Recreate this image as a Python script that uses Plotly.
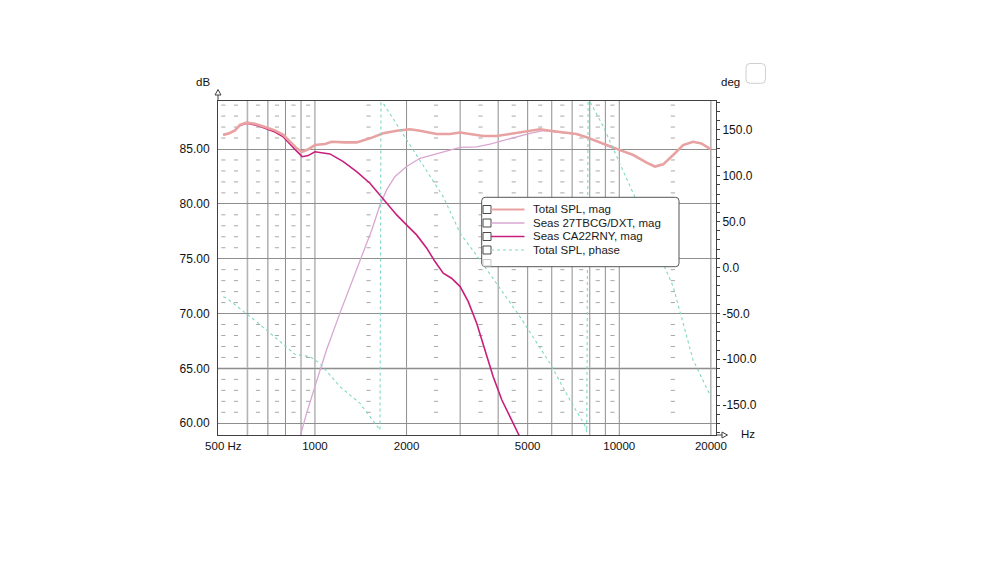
import math
import plotly.graph_objects as go

# ------------------------------------------------------------------ data
TOTAL_F = [500, 519, 546, 567, 596, 635, 685, 739, 787, 828, 871, 908, 950, 1000,
           1079, 1135, 1193, 1255, 1371, 1516, 1676, 1856, 2052, 2214, 2511, 2779,
           3000, 3230, 3570, 3950, 4370, 4830, 5090, 5490, 5920, 6550, 7240, 7810,
           8650, 9330, 10060, 11120, 12300, 13100, 13940, 15040, 16210, 17480, 18620, 20000]
TOTAL_DB = [86.3, 86.4, 86.7, 87.2, 87.4, 87.3, 87.0, 86.7, 86.3, 85.7, 85.06, 84.75, 84.97, 85.36,
            85.46, 85.66, 85.6, 85.6, 85.6, 85.97, 86.43, 86.67, 86.8, 86.67, 86.37, 86.37,
            86.5, 86.37, 86.18, 86.18, 86.37, 86.58, 86.67, 86.8, 86.67, 86.5, 86.37, 86.07,
            85.58, 85.2, 84.9, 84.45, 83.75, 83.4, 83.6, 84.45, 85.36, 85.66, 85.5, 84.97]

TWEETER_F = [897, 939, 1008, 1092, 1208, 1320, 1424, 1536, 1636, 1720, 1830, 2000, 2214,
             2511, 2779, 3000, 3400, 3760, 4160, 4600, 5090, 5630, 5920, 6550, 7240, 7810,
             8650, 9330, 10060, 11120, 12300, 13100, 13940, 15040, 16210, 17480, 18620, 20000]
TWEETER_DB = [58.95, 60.93, 63.66, 66.7, 70.04, 72.77, 75.19, 77.6, 79.9, 81.27, 82.48, 83.4, 84.15,
              84.6, 84.9, 85.15, 85.2, 85.45, 85.8, 86.1, 86.43, 86.67, 86.62, 86.47, 86.35, 86.05,
              85.56, 85.18, 84.88, 84.43, 83.73, 83.38, 83.58, 84.43, 85.34, 85.64, 85.48, 84.95]

WOOFER_F = [500, 519, 546, 567, 596, 635, 685, 739, 787, 828, 871, 908, 950, 1000, 1120, 1239,
            1371, 1516, 1685, 1856, 2026, 2158, 2330, 2480, 2640, 2810, 3000, 3190, 3400, 3620,
            3850, 4110, 4370, 4660, 4800]
WOOFER_DB = [86.3, 86.4, 86.7, 87.15, 87.35, 87.2, 86.9, 86.55, 86.1, 85.4, 84.8, 84.3, 84.4, 84.75,
             84.55, 83.85, 82.93, 81.88, 80.36, 78.99, 77.92, 77.17, 75.96, 74.74, 73.68, 73.22,
             72.46, 71.09, 69.12, 66.69, 64.26, 62.14, 60.62, 59.1, 58.3]

PHASE_F = [500, 513, 643, 748, 860, 963, 1038, 1208, 1406, 1636, 1648, 1676, 2104, 2640, 3000,
           3487, 4720, 5920, 6880, 7700, 7820, 7900, 8010, 8870, 9810, 11100, 12900, 15040,
           17480, 20000]
PHASE_DEG = [-32, -33.6, -59.1, -77.2, -94.7, -97.3, -104.5, -129.9, -148.1, -177.3, 180, 179.1,
             128.2, 77.2, 37.3, 8.2, -53.7, -104.5, -144.5, -171.8, -179.5, 181, 180.9, 153.6,
             120.9, 81.3, 30, -20.9, -100.9, -141]

NAMES = ["Total SPL, mag", "Seas 27TBCG/DXT, mag", "Seas CA22RNY, mag", "Total SPL, phase"]

X_TICKS = [500, 1000, 2000, 5000, 10000, 20000]
X_TICKTEXT = ["500 Hz", "1000", "2000", "5000", "10000", "20000"]
Y_TICKS = [60, 65, 70, 75, 80, 85]
Y2_TICKS = [-150, -100, -50, 0, 50, 100, 150]

GRID_X = [800, 900, 1000, 2000, 3000, 4000, 5000, 6000, 7000, 8000, 9000, 10000, 20000]
GRID_X_SOFT = [600, 700]
MINOR_X = [500, 550, 650, 750, 850, 950, 1500, 2500, 3500, 4500, 5500, 6500, 7500, 8500, 9500, 15000]
MINOR_Y = [61, 62, 63, 64, 66, 67, 68, 69, 71, 72, 73, 74, 76, 77, 78, 79, 81, 82, 83, 84,
           86, 87, 88, 89]

X_RANGE_HZ = [480.2, 20790]
Y_RANGE = [58.93, 89.375]
Y2_RANGE = [-182.7, 181.6]

# ------------------------------------------------------------------ styles
FONT = "Liberation Sans, Arial, sans-serif"
STYLE = {
    "total": dict(color="#E9A2A2", width=2.6),
    "tweeter": dict(color="#D8A6D0", width=1.3),
    "woofer": dict(color="#C81E7C", width=1.6),
    "phase": dict(color="#7FD7C6", width=1.1, dash="dot"),
}
GRID_COLOR = "#8e8e8e"
AXIS_COLOR = "#404040"

W, H = 1000, 564
OFF = 8  # page body margin
# plot area in screen pixels
SL, SR, ST, SB = 218, 716, 101, 435
L, R, T, B = SL - OFF, SR - OFF, ST - OFF, SB - OFF


def px(x):
    return (x - SL) / (SR - SL)


def py(y):
    return (SB - y) / (SB - ST)


fig = go.Figure()

# minor grid marks (short dashes)
fig.add_trace(go.Scatter(
    x=[f for f in MINOR_X for _ in MINOR_Y],
    y=[v for _ in MINOR_X for v in MINOR_Y],
    mode="markers", hoverinfo="skip", showlegend=False,
    marker=dict(symbol="line-ew", size=3, line=dict(width=1, color="#a8a8a8")),
))

fig.add_trace(go.Scatter(x=PHASE_F, y=PHASE_DEG, yaxis="y2", mode="lines",
                         name=NAMES[3], line=STYLE["phase"], showlegend=False))
fig.add_trace(go.Scatter(x=TWEETER_F, y=TWEETER_DB, mode="lines", name=NAMES[1],
                         line=STYLE["tweeter"], showlegend=False))
fig.add_trace(go.Scatter(x=WOOFER_F, y=WOOFER_DB, mode="lines", name=NAMES[2],
                         line=STYLE["woofer"], showlegend=False))
fig.add_trace(go.Scatter(x=TOTAL_F, y=TOTAL_DB, mode="lines", name=NAMES[0],
                         line=STYLE["total"], showlegend=False))

shapes = []
for f in GRID_X:
    shapes.append(dict(type="line", xref="x", yref="paper", x0=f, x1=f, y0=0, y1=1,
                       line=dict(color=GRID_COLOR, width=1), layer="below"))
for f in GRID_X_SOFT:
    shapes.append(dict(type="line", xref="x", yref="paper", x0=f, x1=f, y0=0, y1=1,
                       line=dict(color="#b4b4b4", width=1.6), layer="below"))
shapes.append(dict(type="line", xref="paper", yref="y", x0=0, x1=1, y0=65, y1=65,
                   line=dict(color="#c2c2c2", width=2), layer="below"))

# axis extensions with arrow heads
shapes.append(dict(type="line", xref="paper", yref="paper", x0=px(218), x1=px(218),
                   y0=py(95), y1=py(101), line=dict(color=AXIS_COLOR, width=1)))
shapes.append(dict(type="path", xref="paper", yref="paper",
                   path=f"M{px(215)},{py(95)} L{px(221)},{py(95)} L{px(218)},{py(89.5)} Z",
                   line=dict(color=AXIS_COLOR, width=1), fillcolor="white"))
shapes.append(dict(type="line", xref="paper", yref="paper", x0=px(716), x1=px(722),
                   y0=py(435), y1=py(435), line=dict(color=AXIS_COLOR, width=1)))
shapes.append(dict(type="path", xref="paper", yref="paper",
                   path=f"M{px(722)},{py(432)} L{px(722)},{py(438)} L{px(727.5)},{py(435)} Z",
                   line=dict(color=AXIS_COLOR, width=1), fillcolor="white"))


def rounded_rect(x0, y0, x1, y1, r):
    rx = r / (SR - SL)
    ry = r / (SB - ST)
    X0, X1 = px(x0), px(x1)
    Y0, Y1 = py(y0), py(y1)  # Y0 top, Y1 bottom
    return (f"M{X0 + rx},{Y0} L{X1 - rx},{Y0} Q{X1},{Y0} {X1},{Y0 - ry} "
            f"L{X1},{Y1 + ry} Q{X1},{Y1} {X1 - rx},{Y1} L{X0 + rx},{Y1} "
            f"Q{X0},{Y1} {X0},{Y1 + ry} L{X0},{Y0 - ry} Q{X0},{Y0} {X0 + rx},{Y0} Z")


# top right little box
shapes.append(dict(type="path", xref="paper", yref="paper",
                   path=rounded_rect(746, 63.5, 765.5, 83.3, 4),
                   line=dict(color="#cfcfcf", width=1), fillcolor="white"))

# legend box
shapes.append(dict(type="path", xref="paper", yref="paper",
                   path=rounded_rect(481.7, 197.3, 679, 266.7, 3.5),
                   line=dict(color="#555555", width=1), fillcolor="white", layer="above"))
ROWS = [209.5, 223, 236.5, 250]
legend_styles = [STYLE["total"], STYLE["tweeter"], STYLE["woofer"], STYLE["phase"]]
for yrow, st in zip(ROWS, legend_styles):
    shapes.append(dict(type="rect", xref="paper", yref="paper",
                       x0=px(483), x1=px(491), y0=py(yrow - 4), y1=py(yrow + 4),
                       line=dict(color="#4a4a4a", width=1), fillcolor="white", layer="above"))
    shapes.append(dict(type="line", xref="paper", yref="paper",
                       x0=px(491), x1=px(524.5), y0=py(yrow), y1=py(yrow),
                       line=dict(color=st["color"], width=min(st["width"], 2),
                                 dash=st.get("dash", "solid")), layer="above"))
shapes.append(dict(type="rect", xref="paper", yref="paper",
                   x0=px(483), x1=px(491), y0=py(259.5), y1=py(266),
                   line=dict(color="#c8c8c8", width=1), fillcolor="white", layer="above"))

annotations = []
for yrow, name in zip(ROWS, NAMES):
    annotations.append(dict(xref="paper", yref="paper", x=px(530.5), y=py(yrow - 0.3),
                            xanchor="left", yanchor="middle", text=name, showarrow=False,
                            font=dict(family=FONT, size=11.5, color="#1a1a1a")))
annotations.append(dict(xref="paper", yref="paper", x=px(203), y=py(82), text="dB",
                        showarrow=False, xanchor="center", yanchor="middle",
                        font=dict(family=FONT, size=11.5, color="#111111")))
annotations.append(dict(xref="paper", yref="paper", x=px(730), y=py(82), text="deg",
                        showarrow=False, xanchor="center", yanchor="middle",
                        font=dict(family=FONT, size=11.5, color="#111111")))
annotations.append(dict(xref="paper", yref="paper", x=px(747.5), y=py(434), text="Hz",
                        showarrow=False, xanchor="center", yanchor="middle",
                        font=dict(family=FONT, size=11.5, color="#111111")))

fig.update_layout(
    width=W, height=H,
    margin=dict(l=L, r=W - R, t=T, b=H - B, pad=0),
    paper_bgcolor="white", plot_bgcolor="white",
    showlegend=False,
    font=dict(family=FONT, size=12, color="#111111"),
    xaxis=dict(type="log", range=[math.log10(X_RANGE_HZ[0]), math.log10(X_RANGE_HZ[1])],
               tickmode="array", tickvals=X_TICKS, ticktext=X_TICKTEXT,
               showgrid=False, zeroline=False, showline=True, mirror=True,
               linecolor=AXIS_COLOR, linewidth=1, ticks="",
               tickfont=dict(family=FONT, size=11.5, color="#111111")),
    yaxis=dict(range=Y_RANGE, tickmode="array", tickvals=Y_TICKS, tickformat=".2f",
               showgrid=True, gridcolor=GRID_COLOR, gridwidth=1, zeroline=False,
               showline=True, linecolor=AXIS_COLOR, linewidth=1, ticks="",
               ticklabelstandoff=5,
               tickfont=dict(family=FONT, size=12, color="#111111")),
    yaxis2=dict(range=Y2_RANGE, overlaying="y", side="right", anchor="x",
                tickmode="array", tickvals=Y2_TICKS,
                ticktext=[f"{v:.1f}" for v in Y2_TICKS],
                showgrid=False, zeroline=False, showline=True, linecolor=AXIS_COLOR,
                linewidth=1, ticks="outside", ticklen=3, tickcolor=AXIS_COLOR,
                minor=dict(dtick=10, ticks="outside", ticklen=3, tickcolor=AXIS_COLOR),
                tickfont=dict(family=FONT, size=12, color="#111111")),
    shapes=shapes,
    annotations=annotations,
)

fig.write_html("out.html")
